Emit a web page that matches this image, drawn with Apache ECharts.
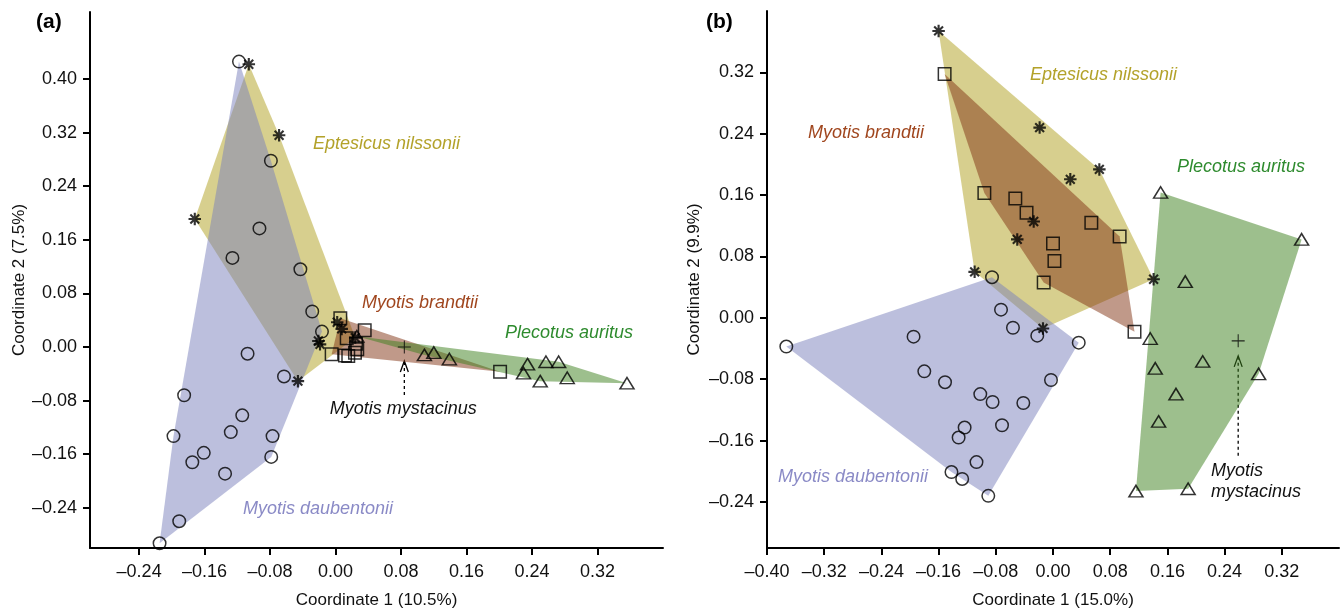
<!DOCTYPE html>
<html>
<head>
<meta charset="utf-8">
<script src="https://cdn.jsdelivr.net/npm/echarts@6/dist/echarts.min.js"></script>
<style>html,body{margin:0;padding:0;background:#fff;}#c{width:1341px;height:614px;}</style>
</head>
<body>
<div id="c"></div>
<script>
// ---------------- DATA ----------------
// Panel (a)
const daubA = [[-0.118,0.426],[-0.079,0.278],[-0.093,0.177],[-0.126,0.133],[-0.043,0.116],[-0.0285,0.053],[-0.0166,0.023],[-0.1075,-0.010],[-0.063,-0.044],[-0.185,-0.072],[-0.114,-0.102],[-0.198,-0.133],[-0.128,-0.127],[-0.077,-0.133],[-0.161,-0.158],[-0.175,-0.172],[-0.0786,-0.164],[-0.135,-0.189],[-0.191,-0.260],[-0.215,-0.293]];
const nilsA = [[-0.106,0.422],[-0.069,0.316],[-0.172,0.191],[-0.021,0.009],[-0.019,0.004],[0.002,0.037],[0.0075,0.027],[0.024,0.014],[-0.046,-0.051]];
const brandA = [[0.0058,0.043],[0.0356,0.025],[0.0136,0.013],[0.025,0.005],[0.0265,-0.0034],[0.0237,-0.0084],[0.0155,-0.0133],[-0.0048,-0.0108],[0.0115,-0.0125],[0.201,-0.037]];
const auritA = [[0.026,0.016],[0.1085,-0.0118],[0.120,-0.0084],[0.139,-0.018],[0.2345,-0.0256],[0.2296,-0.039],[0.257,-0.022],[0.2725,-0.022],[0.250,-0.051],[0.283,-0.046],[0.356,-0.054]];
const mystA = [[0.084,0.000]];
// Panel (b)
const daubB = [[-0.0853,0.053],[-0.0727,0.0107],[-0.056,-0.0129],[-0.022,-0.0232],[0.036,-0.0323],[-0.373,-0.0374],[-0.195,-0.0245],[-0.180,-0.0697],[-0.151,-0.0839],[-0.0028,-0.081],[-0.1017,-0.0994],[-0.0845,-0.1097],[-0.0415,-0.111],[-0.0713,-0.140],[-0.1236,-0.143],[-0.132,-0.156],[-0.107,-0.188],[-0.142,-0.201],[-0.127,-0.210],[-0.0905,-0.232]];
const nilsB = [[-0.160,0.374],[-0.0187,0.248],[0.0242,0.1806],[0.0648,0.1935],[-0.027,0.1256],[-0.050,0.1023],[-0.1096,0.060],[0.1407,0.0503],[-0.014,-0.0138]];
const brandB = [[-0.1516,0.318],[-0.096,0.1626],[-0.0527,0.1557],[-0.037,0.137],[0.000,0.0968],[0.002,0.074],[-0.013,0.046],[0.0536,0.1239],[0.0932,0.1062],[0.114,-0.018]];
const auritB = [[0.1505,0.1635],[0.3477,0.1023],[0.185,0.0473],[0.136,-0.027],[0.143,-0.0658],[0.2094,-0.0568],[0.2876,-0.073],[0.172,-0.0994],[0.1477,-0.135],[0.116,-0.2258],[0.189,-0.2228]];
const mystB = [[0.259,-0.030]];
// Tick values
const ticksAX = [-0.24,-0.16,-0.08,0,0.08,0.16,0.24,0.32];
const ticksAY = [-0.24,-0.16,-0.08,0,0.08,0.16,0.24,0.32,0.40];
const ticksBX = [-0.40,-0.32,-0.24,-0.16,-0.08,0,0.08,0.16,0.24,0.32];
const ticksBY = [-0.24,-0.16,-0.08,0,0.08,0.16,0.24,0.32];
const speciesNames = ['Myotis daubentonii','Eptesicus nilssonii','Myotis brandtii','Plecotus auritus','Myotis mystacinus'];

// ---------------- HELPERS ----------------
const FONT = 'Liberation Sans, Arial, sans-serif';
const fmt = v => (v < -1e-9 ? '\u2013' : '') + Math.abs(v).toFixed(2);
function convexHull(points){
  const p = points.slice().sort((a,b)=>a[0]-b[0]||a[1]-b[1]);
  const cross=(o,a,b)=>(a[0]-o[0])*(b[1]-o[1])-(a[1]-o[1])*(b[0]-o[0]);
  const lower=[]; for(const q of p){while(lower.length>=2&&cross(lower[lower.length-2],lower[lower.length-1],q)<=0)lower.pop(); lower.push(q);}
  const upper=[]; for(let i=p.length-1;i>=0;i--){const q=p[i]; while(upper.length>=2&&cross(upper[upper.length-2],upper[upper.length-1],q)<=0)upper.pop(); upper.push(q);}
  upper.pop(); lower.pop(); return lower.concat(upper);
}
const FILL = {
  daub: 'rgba(122,127,187,0.5)',
  nils: 'rgba(176,160,30,0.5)',
  brand: 'rgba(130,52,20,0.5)',
  aurit: 'rgba(60,127,28,0.5)'
};
const ASTER = 'path://M-1.7,-10L1.7,-10L1.7,10L-1.7,10Z M-10,-1.7L10,-1.7L10,1.7L-10,1.7Z M-5.87,-8.27L8.27,5.87L5.87,8.27L-8.27,-5.87Z M-8.27,5.87L5.87,-8.27L8.27,-5.87L-5.87,8.27Z';
const PLUS = 'path://M-0.8,-10L0.8,-10L0.8,10L-0.8,10Z M-10,-0.8L10,-0.8L10,0.8L-10,0.8Z';

function xAxis(gi, min, max, ticks, name){
  return {type:'value', gridIndex:gi, min, max, name, nameLocation:'middle', nameGap:44,
    nameTextStyle:{fontFamily:FONT, fontSize:17, color:'#111'},
    axisLine:{show:true, onZero:false, lineStyle:{color:'#000', width:2}},
    axisTick:{show:true, length:7, lineStyle:{color:'#000', width:2}, customValues:ticks},
    axisLabel:{customValues:ticks, formatter:fmt, fontFamily:FONT, fontSize:18, color:'#111', margin:15},
    splitLine:{show:false}};
}
function yAxis(gi, min, max, ticks, name, gap){
  return {type:'value', gridIndex:gi, min, max, name, nameLocation:'middle', nameGap:gap,
    nameTextStyle:{fontFamily:FONT, fontSize:17, color:'#111'},
    axisLine:{show:true, onZero:false, lineStyle:{color:'#000', width:2}},
    axisTick:{show:true, length:7, lineStyle:{color:'#000', width:2}, customValues:ticks},
    axisLabel:{customValues:ticks, formatter:fmt, fontFamily:FONT, fontSize:18, color:'#111', margin:13},
    splitLine:{show:false}};
}
function hullSeries(gi, groups){
  return {type:'custom', coordinateSystem:'cartesian2d', xAxisIndex:gi, yAxisIndex:gi, silent:true, z:1,
    data: groups.map(g=>g.pts[0]),
    renderItem:(params, api)=>{
      const g = groups[params.dataIndex];
      const pts = convexHull(g.pts).map(p=>api.coord(p));
      return {type:'polygon', shape:{points:pts}, style:{fill:g.fill}};
    }};
}
const hollow = {color:'rgba(0,0,0,0)', borderColor:'#000', borderWidth:1.5};
function sc(gi, data, kind, nm){
  const s = {type:'scatter', name:nm, xAxisIndex:gi, yAxisIndex:gi, data, silent:true, z:3};
  if(kind==='circle'){s.symbol='circle'; s.symbolSize=12.5; s.itemStyle=hollow;}
  if(kind==='square'){s.symbol='rect'; s.symbolSize=12.5; s.itemStyle=hollow;}
  if(kind==='triangle'){s.symbol='triangle'; s.symbolSize=[14,11.5]; s.itemStyle=hollow;}
  if(kind==='aster'){s.symbol=ASTER; s.symbolSize=12.5; s.itemStyle={color:'#000', borderWidth:0};}
  if(kind==='plus'){s.symbol=PLUS; s.symbolSize=13; s.itemStyle={color:'#000', borderWidth:0};}
  return s;
}

const option = {
  animation:false,
  backgroundColor:'#fff',
  grid:[
    {left:90, top:12, width:573, height:541},
    {left:767, top:11, width:572, height:541}
  ],
  xAxis:[ xAxis(0,-0.30,0.40,ticksAX,'Coordinate 1 (10.5%)'), xAxis(1,-0.40,0.40,ticksBX,'Coordinate 1 (15.0%)') ],
  yAxis:[ yAxis(0,-0.30,0.50,ticksAY,'Coordinate 2 (7.5%)',62), yAxis(1,-0.30,0.40,ticksBY,'Coordinate 2 (9.9%)',64) ],
  series:[
    hullSeries(0,[{pts:nilsA,fill:FILL.nils},{pts:daubA,fill:FILL.daub},{pts:brandA,fill:FILL.brand},{pts:auritA,fill:FILL.aurit}]),
    hullSeries(1,[{pts:nilsB,fill:FILL.nils},{pts:daubB,fill:FILL.daub},{pts:brandB,fill:FILL.brand},{pts:auritB,fill:FILL.aurit}]),
    sc(0,daubA,'circle',speciesNames[0]), sc(0,nilsA,'aster',speciesNames[1]), sc(0,brandA,'square',speciesNames[2]), sc(0,auritA,'triangle',speciesNames[3]), sc(0,mystA,'plus',speciesNames[4]),
    sc(1,daubB,'circle',speciesNames[0]), sc(1,nilsB,'aster',speciesNames[1]), sc(1,brandB,'square',speciesNames[2]), sc(1,auritB,'triangle',speciesNames[3]), sc(1,mystB,'plus',speciesNames[4])
  ]
};
const chart = echarts.init(document.getElementById('c'), null, {renderer:'canvas'});
chart.setOption(option);

// ---------------- ANNOTATIONS ----------------
function txt(x,y,t,color,opt){
  return {type:'text', x, y, silent:true, style:Object.assign({text:t, fill:color, font:'italic 18px '+FONT, textAlign:'left', textVerticalAlign:'middle'}, opt||{})};
}
function arrow(p, tipOff, endOff){
  const tip = p[1]+tipOff;
  return [
    {type:'line', silent:true, shape:{x1:p[0], y1:tip+1, x2:p[0], y2:p[1]+endOff}, style:{stroke:'#000', lineWidth:1.3, lineDash:[3,3]}},
    {type:'polyline', silent:true, shape:{points:[[p[0]-4,tip+11],[p[0],tip],[p[0]+4,tip+11]]}, style:{stroke:'#000', lineWidth:1.3, fill:null}}
  ];
}
const pA = chart.convertToPixel({gridIndex:0}, mystA[0]);
const pB = chart.convertToPixel({gridIndex:1}, mystB[0]);
const g = [
  {type:'text', x:36, y:22, silent:true, style:{text:'(a)', font:'bold 21px '+FONT, fill:'#000', textVerticalAlign:'middle'}},
  {type:'text', x:706, y:22, silent:true, style:{text:'(b)', font:'bold 21px '+FONT, fill:'#000', textVerticalAlign:'middle'}},
  txt(313,144,speciesNames[1],'#B3A22A'),
  txt(362,303,speciesNames[2],'#A0461E'),
  txt(505,333,speciesNames[3],'#2E8B2E'),
  txt(243,509,speciesNames[0],'#8A8AC6'),
  txt(pA[0]-1,pA[1]+62,speciesNames[4],'#111',{textAlign:'center'}),
  txt(1030,75,speciesNames[1],'#B3A22A'),
  txt(808,133,speciesNames[2],'#A0461E'),
  txt(1177,167,speciesNames[3],'#2E8B2E'),
  txt(778,477,speciesNames[0],'#8A8AC6'),
  txt(1211,pB[1]+130,'Myotis','#111'),
  txt(1211,pB[1]+151,'mystacinus','#111')
].concat(arrow(pA,14,50)).concat(arrow(pB,15,117));
chart.setOption({graphic:g});
</script>
</body>
</html>
